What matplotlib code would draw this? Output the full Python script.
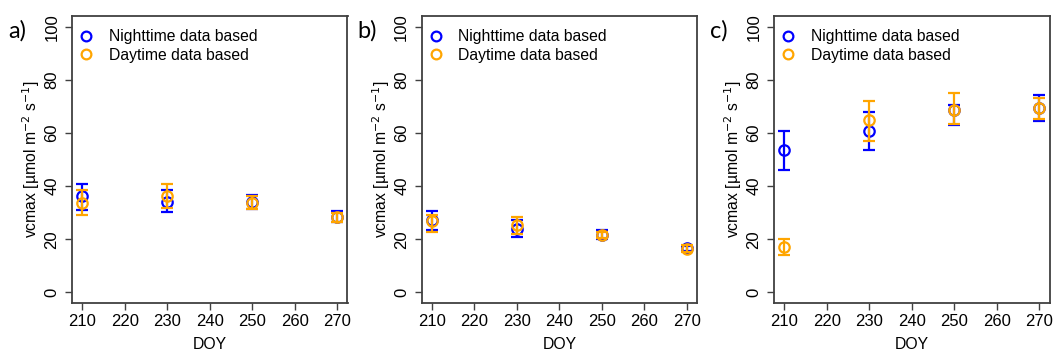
import numpy as np
import matplotlib
matplotlib.use('Agg')
import matplotlib.pyplot as plt
from matplotlib.lines import Line2D

plt.rcParams['font.family'] = ['Liberation Sans', 'DejaVu Sans']

doy = [210, 230, 250, 270]

# panel a
a_night = [36.4, 33.9, 34.1, 28.5]
a_night_lo = [30.9, 30.1, 31.5, 26.6]
a_night_hi = [40.6, 38.4, 36.8, 30.7]
a_day = [33.7, 36.2, 33.8, 28.3]
a_day_lo = [29.0, 31.8, 31.2, 26.4]
a_day_hi = [38.7, 40.6, 36.2, 30.0]

# panel b
b_night = [27.2, 23.9, 21.7, 16.6]
b_night_lo = [23.6, 20.9, 20.1, 15.6]
b_night_hi = [30.5, 27.1, 23.6, 17.6]
b_day = [26.8, 25.5, 21.5, 16.5]
b_day_lo = [22.8, 22.1, 20.4, 15.3]
b_day_hi = [29.3, 28.4, 22.6, 17.8]

# panel c
c_night = [53.4, 60.9, 68.8, 69.4]
c_night_lo = [45.9, 53.5, 62.8, 64.4]
c_night_hi = [60.7, 67.8, 70.5, 74.2]
c_day = [17.0, 64.7, 68.8, 69.2]
c_day_lo = [13.9, 56.9, 63.2, 65.1]
c_day_hi = [19.9, 72.2, 74.9, 73.2]

panels = [
    ('a)', a_night, a_night_lo, a_night_hi, a_day, a_day_lo, a_day_hi),
    ('b)', b_night, b_night_lo, b_night_hi, b_day, b_day_lo, b_day_hi),
    ('c)', c_night, c_night_lo, c_night_hi, c_day, c_day_lo, c_day_hi),
]

blue = '#0000FF'
orange = '#FFA500'
lefts = [72, 421.7, 774]

fig = plt.figure(figsize=(10.53, 3.51), dpi=100)
W, H = 1053.0, 351.0

for k, (lab, n, nlo, nhi, d, dlo, dhi) in enumerate(panels):
    ax = fig.add_axes([lefts[k] / W, 1 - 303 / H, 275.5 / W, 287 / H])
    n = np.array(n); d = np.array(d)
    ax.errorbar(doy, n, yerr=[n - np.array(nlo), np.array(nhi) - n], fmt='o',
                mfc='none', mec=blue, ms=7.5, mew=1.6, ecolor=blue,
                elinewidth=1.6, capsize=4, capthick=1.6, zorder=2)
    ax.errorbar(doy, d, yerr=[d - np.array(dlo), np.array(dhi) - d], fmt='o',
                mfc='none', mec=orange, ms=7.5, mew=1.6, ecolor=orange,
                elinewidth=1.6, capsize=4, capthick=1.6, zorder=3)
    ax.set_xlim(207.6, 272.4)
    ax.set_ylim(-4, 104)
    ax.set_xticks([210, 220, 230, 240, 250, 260, 270])
    ax.set_yticks([0, 20, 40, 60, 80, 100])
    for s in ax.spines.values():
        s.set_color('#404040')
        s.set_linewidth(1.3)
    ax.tick_params(axis='both', length=5, width=1.0, color='#404040',
                   labelsize=12)
    ax.tick_params(axis='y', pad=4)
    ax.tick_params(axis='x', pad=3)
    for t in ax.get_yticklabels():
        t.set_rotation(90)
        t.set_va('center')
    ax.set_xlabel('DOY', fontsize=11.3)
    ax.xaxis.set_label_coords(0.5, -0.118)
    ax.set_ylabel('vcmax [µmol m$^{-2}$ s$^{-1}$]', fontsize=11.3)
    ax.yaxis.set_label_coords(-0.108, 0.5)
    handles = [Line2D([], [], ls='none', marker='o', mfc='none', mec=blue,
                      ms=7, mew=1.6),
               Line2D([], [], ls='none', marker='o', mfc='none', mec=orange,
                      ms=7, mew=1.6)]
    ax.legend(handles, ['Nighttime data based', 'Daytime data based'],
              loc='upper left', frameon=False, fontsize=11.3,
              handlelength=1.0, handletextpad=0.95, labelspacing=0.25,
              borderaxespad=0.3, bbox_to_anchor=(-0.018, 0.993))
    fig.text((lefts[k] - 64) / W, 1 - 31 / H, lab, fontsize=17,
             family=['Lato', 'DejaVu Sans'], va='center', ha='left')

fig.savefig('out.png', dpi=100)
